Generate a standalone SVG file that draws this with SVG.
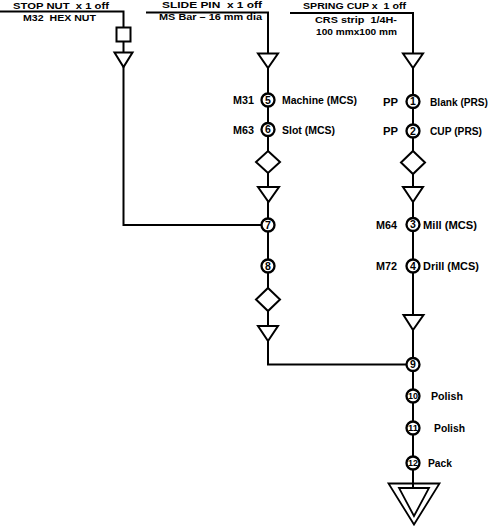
<svg xmlns="http://www.w3.org/2000/svg" width="491" height="528" viewBox="0 0 491 528">
<style>
text{font-family:"Liberation Sans",Arial,sans-serif;font-weight:bold;font-size:10.5px;fill:#000;white-space:pre}
.t{font-size:11.5px}
.n{font-size:10.5px;text-anchor:middle}
.n2{font-size:9.5px;text-anchor:middle}
.ln{fill:none;stroke:#000;stroke-width:2}
.sh{fill:#fff;stroke:#000;stroke-width:2}
.c{fill:#fff;stroke:#000;stroke-width:2.3}
</style>
<rect width="491" height="528" fill="#fff"/>
<g id="connectors">
<path class="ln" d="M0,11.5 H123.5 V225 H268"/>
<path class="ln" d="M146,12.5 H268 V364.5 H413"/>
<path class="ln" d="M290,13 H413 V488"/>
</g>
<g id="stop-nut">
<text class="t" transform="translate(13,8.5) scale(1,0.75)" textLength="96" lengthAdjust="spacingAndGlyphs">STOP NUT  x 1 off</text>
<text class="t" transform="translate(23,20.5) scale(1,0.75)" textLength="73" lengthAdjust="spacingAndGlyphs">M32  HEX NUT</text>
<rect class="sh" x="116.5" y="27.5" width="14" height="14"/>
<polygon class="sh" points="114.5,52.5 132.5,52.5 123.5,67"/>
</g>
<g id="slide-pin">
<text class="t" transform="translate(162,8) scale(1,0.75)" textLength="100" lengthAdjust="spacingAndGlyphs">SLIDE PIN  x 1 off</text>
<text class="t" transform="translate(159,19.5) scale(1,0.75)" textLength="103" lengthAdjust="spacingAndGlyphs">MS Bar – 16 mm dia</text>
<polygon class="sh" points="258,53.5 278,53.5 268,68"/>
</g>
<g id="spring-cup">
<text class="t" transform="translate(303,8.5) scale(1,0.75)" textLength="103" lengthAdjust="spacingAndGlyphs">SPRING CUP x  1 off</text>
<text class="t" transform="translate(315,22.5) scale(1,0.75)" textLength="82" lengthAdjust="spacingAndGlyphs">CRS strip  1/4H-</text>
<text class="t" transform="translate(316,35) scale(1,0.75)" textLength="81" lengthAdjust="spacingAndGlyphs">100 mmx100 mm</text>
<polygon class="sh" points="403,53.5 423,53.5 413,68"/>
</g>
<g id="node-5"><circle class="c" cx="268" cy="100" r="6.5"/><text class="n" x="268" y="103.8">5</text><text x="233" y="104" textLength="21" lengthAdjust="spacingAndGlyphs">M31</text><text x="282" y="104" textLength="75" lengthAdjust="spacingAndGlyphs">Machine (MCS)</text></g>
<g id="node-6"><circle class="c" cx="268" cy="129.5" r="6.5"/><text class="n" x="268" y="133.3">6</text><text x="233" y="133.5" textLength="21" lengthAdjust="spacingAndGlyphs">M63</text><text x="282" y="133.5" textLength="53" lengthAdjust="spacingAndGlyphs">Slot (MCS)</text></g>
<g id="slide-inspect-1"><polygon class="sh" points="268,151 280,162 268,173 256,162"/></g>
<g id="slide-store-1"><polygon class="sh" points="258,187 279,187 268.5,202"/></g>
<g id="node-1"><circle class="c" cx="413" cy="101.5" r="6.5"/><text class="n" x="413" y="105.3">1</text><text x="383" y="105.5" textLength="15" lengthAdjust="spacingAndGlyphs">PP</text><text x="430" y="105.5" style="font-size:10px" textLength="58" lengthAdjust="spacingAndGlyphs">Blank (PRS)</text></g>
<g id="node-2"><circle class="c" cx="413" cy="131" r="6.5"/><text class="n" x="413" y="134.8">2</text><text x="383" y="135" textLength="15" lengthAdjust="spacingAndGlyphs">PP</text><text x="430" y="135" textLength="52" lengthAdjust="spacingAndGlyphs">CUP (PRS)</text></g>
<g id="spring-inspect-1"><polygon class="sh" points="413,151 425,162.5 413,174 401,162.5"/></g>
<g id="spring-store-1"><polygon class="sh" points="403,187 423,187 413,202"/></g>
<g id="node-7"><circle class="c" cx="268" cy="225" r="6.5"/><text class="n" x="268" y="228.8">7</text></g>
<g id="node-8"><circle class="c" cx="268" cy="266" r="6.5"/><text class="n" x="268" y="269.8">8</text></g>
<g id="slide-inspect-2"><polygon class="sh" points="268,288 280,299.5 268,311 256,299.5"/></g>
<g id="slide-store-2"><polygon class="sh" points="258,326 278,326 268,341"/></g>
<g id="node-3"><circle class="c" cx="413" cy="224.5" r="6.5"/><text class="n" x="413" y="228.3">3</text><text x="376" y="228.5" textLength="21" lengthAdjust="spacingAndGlyphs">M64</text><text x="423" y="228.5" textLength="54" lengthAdjust="spacingAndGlyphs">Mill (MCS)</text></g>
<g id="node-4"><circle class="c" cx="413" cy="266" r="6.5"/><text class="n" x="413" y="269.8">4</text><text x="376" y="270" textLength="21" lengthAdjust="spacingAndGlyphs">M72</text><text x="423" y="270" textLength="56" lengthAdjust="spacingAndGlyphs">Drill (MCS)</text></g>
<g id="spring-store-2"><polygon class="sh" points="403.5,315 423.5,315 413,330"/></g>
<g id="node-9"><circle class="c" cx="413" cy="364.5" r="6.5"/><text class="n" x="413" y="368.3">9</text></g>
<g id="node-10"><circle class="c" cx="413" cy="396" r="6.5"/><text class="n2" x="413" y="399.4" textLength="10" lengthAdjust="spacingAndGlyphs">10</text><text x="431" y="400" textLength="32" lengthAdjust="spacingAndGlyphs">Polish</text></g>
<g id="node-11"><circle class="c" cx="413" cy="428" r="6.5"/><text class="n2" x="413" y="431.4" textLength="10" lengthAdjust="spacingAndGlyphs">11</text><text x="434" y="432" textLength="31" lengthAdjust="spacingAndGlyphs">Polish</text></g>
<g id="node-12"><circle class="c" cx="413" cy="463" r="6.5"/><text class="n2" x="413" y="466.4" textLength="10" lengthAdjust="spacingAndGlyphs">12</text><text x="428" y="467" textLength="24" lengthAdjust="spacingAndGlyphs">Pack</text></g>
<g id="final-store">
<polygon points="388.5,483.5 439.5,483.5 414,524.5" fill="none" stroke="#000" stroke-width="1.8"/>
<polygon points="399,488 429,488 414,516" fill="#fff" stroke="#000" stroke-width="1.8"/>
</g>
</svg>
